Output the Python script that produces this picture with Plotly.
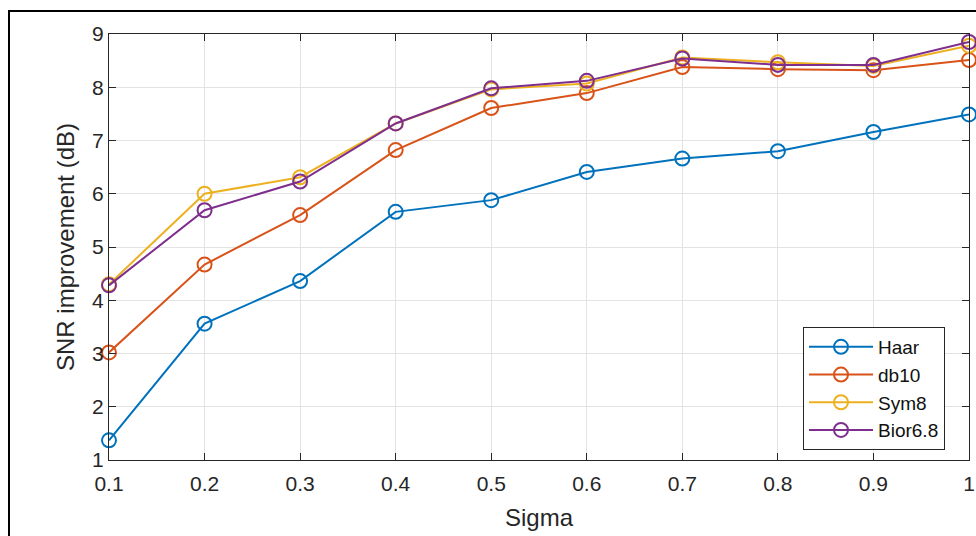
import plotly.graph_objects as go

sigma = [0.1, 0.2, 0.3, 0.4, 0.5, 0.6, 0.7, 0.8, 0.9, 1.0]
haar = [1.37, 3.56, 4.36, 5.66, 5.88, 6.41, 6.66, 6.80, 7.16, 7.49]
db10 = [3.02, 4.67, 5.60, 6.82, 7.61, 7.89, 8.38, 8.34, 8.32, 8.51]
sym8 = [4.30, 6.00, 6.31, 7.32, 7.96, 8.07, 8.56, 8.47, 8.40, 8.78]
bior68 = [4.28, 5.69, 6.23, 7.32, 7.98, 8.12, 8.54, 8.42, 8.42, 8.85]

series = [("Haar", haar, "#0072BD"), ("db10", db10, "#D95319"),
          ("Sym8", sym8, "#EDB120"), ("Bior6.8", bior68, "#7E2F8E")]

x_ticks = [0.1, 0.2, 0.3, 0.4, 0.5, 0.6, 0.7, 0.8, 0.9, 1.0]
x_tick_text = ["0.1", "0.2", "0.3", "0.4", "0.5", "0.6", "0.7", "0.8", "0.9", "1"]
y_ticks = [1, 2, 3, 4, 5, 6, 7, 8, 9]

FONT = "Liberation Sans, Arial"

fig = go.Figure()
for name, vals, col in series:
    fig.add_trace(go.Scatter(
        x=sigma, y=vals, name=name, mode="lines+markers",
        line=dict(color=col, width=2),
        marker=dict(symbol="circle-open", size=14, color=col, line=dict(width=2, color=col)),
        cliponaxis=False,
    ))

W, H = 976, 536
L, R, T, B = 109, 7, 34, 76
pw, ph = W - L - R, H - T - B

axis_common = dict(
    showline=True, linecolor="#262626", linewidth=1, mirror="ticks",
    ticks="inside", ticklen=7, tickcolor="#262626",
    showgrid=True, gridcolor="#E3E3E3", gridwidth=1,
    zeroline=False, automargin=False,
    tickfont=dict(family=FONT, size=21, color="#262626"),
    title_font=dict(family=FONT, size=24, color="#262626"),
)

fig.update_layout(
    width=W, height=H,
    margin=dict(l=L, r=R, t=T, b=B),
    paper_bgcolor="white", plot_bgcolor="white",
    xaxis=dict(range=[0.1, 1.0], tickvals=x_ticks, ticktext=x_tick_text,
               ticklabelstandoff=5,
               title=dict(text="Sigma", standoff=14), **axis_common),
    yaxis=dict(range=[1, 9], tickvals=y_ticks,
               title=dict(text="SNR improvement (dB)", standoff=10), **axis_common),
    legend=dict(x=(803 - L) / pw, y=1 - (327 - T) / ph, xanchor="left", yanchor="top",
                bgcolor="white", bordercolor="#262626", borderwidth=1,
                font=dict(family=FONT, size=19, color="#111111"),
                itemwidth=64, tracegroupgap=0),
    showlegend=True,
)

fig.add_shape(type="rect", xref="paper", yref="paper",
              x0=(9 - L) / pw, x1=1.3, y0=-0.5, y1=1 + (T - 11) / ph,
              line=dict(color="black", width=2), fillcolor="rgba(0,0,0,0)", layer="above")

fig.write_html("out.html", config={"displayModeBar": False},
               post_script="document.body.style.margin='0';document.body.style.padding='0';")
